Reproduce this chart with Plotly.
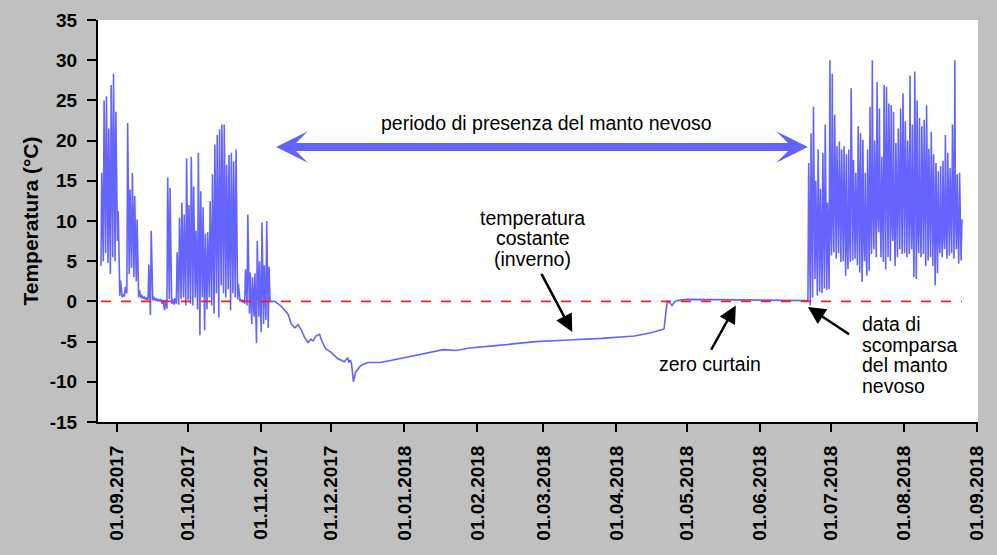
import pandas as pd
import plotly.graph_objects as go

# ---------------------------------------------------------------------------
# Ground-surface temperature record (°C)
# ---------------------------------------------------------------------------

# Snow-free period, late summer / autumn 2017: daily minimum and maximum
autumn_start = "2017-08-25"
autumn_tmin = [4.4, 5.0, 6.0, 4.8, 3.4, 5.5, 5.0, 7.5, 0.7, 0.5,
               0.6, 1.0, 3.4, 4.2, 3.0, 2.5, 0.5, 0.4, 0.3, 0.2,
               0.2, -1.7, 0.1, 0.1, 0.0, 0.0, -0.3, -1.1, -0.9, 0.3,
               -0.3, -0.4, -0.3, -0.4, 0.3, 0.5, -0.5, 0.2, -0.3, -0.5,
               0.5, -1.0, -4.2, 0.5, -3.6, -1.0, 0.5, -0.5, -1.5, 1.0,
               -2.0, 2.0, 1.0, 0.5, 1.5, -1.1, 1.0, 0.5, 0.2, 0.0,
               0.0, -0.3, -0.5, -1.5, -2.8, -1.9, -5.2, -1.9, -3.8, -2.8,
               -2.3, -3.3]
autumn_tmax = [16.0, 25.0, 25.5, 21.5, 26.9, 28.3, 23.6, 11.2, 2.6, 0.9,
               1.8, 22.2, 13.9, 16.0, 13.1, 10.2, 1.4, 0.8, 0.6, 0.5,
               4.6, 8.8, 0.6, 0.4, 0.3, 0.3, 0.2, 0.2, 15.4, 14.1,
               0.3, 0.4, 6.1, 10.4, 12.3, 10.8, 17.8, 12.0, 18.0, 14.3,
               8.8, 18.5, 13.7, 11.7, 8.4, 8.6, 12.5, 15.8, 19.5, 20.7,
               21.4, 22.0, 22.0, 17.0, 18.2, 18.5, 17.4, 18.9, 2.2, 0.2,
               0.2, 4.0, 10.8, 3.6, 3.0, 3.5, 7.5, 5.0, 9.8, 4.5,
               10.0, 4.3]

# Snow-covered period: smooth winter curve and spring zero curtain
winter_dates = ["2017-11-05 00:00", "2017-11-07 00:00", "2017-11-09 18:00",
                "2017-11-12 16:00", "2017-11-14 00:00", "2017-11-15 12:00",
                "2017-11-16 22:00", "2017-11-18 05:00", "2017-11-19 16:00",
                "2017-11-21 02:00", "2017-11-22 10:00", "2017-11-23 06:00",
                "2017-11-24 12:00", "2017-11-26 00:00", "2017-11-26 22:00",
                "2017-11-28 16:00", "2017-11-30 20:00", "2017-12-03 16:00",
                "2017-12-06 12:00", "2017-12-07 06:00", "2017-12-07 22:00",
                "2017-12-08 12:00", "2017-12-09 00:00", "2017-12-09 12:00",
                "2017-12-10 10:00", "2017-12-11 08:00", "2017-12-13 10:00",
                "2017-12-16 08:00", "2017-12-21 20:00", "2017-12-28 20:00",
                "2018-01-04 20:00", "2018-01-11 20:00", "2018-01-17 12:00",
                "2018-01-23 00:00", "2018-01-28 14:00", "2018-02-08 20:00",
                "2018-02-25 16:00", "2018-03-11 12:00", "2018-03-25 16:00",
                "2018-04-08 16:00", "2018-04-15 16:00", "2018-04-20 12:00",
                "2018-04-21 05:00", "2018-04-21 22:00", "2018-04-22 14:00",
                "2018-04-23 18:00", "2018-04-24 14:00", "2018-04-25 20:00",
                "2018-04-26 18:00", "2018-04-30 22:00", "2018-05-29 00:00",
                "2018-06-21 04:00"]
winter_temp = [0.0, 0.0, -0.6,
               -1.6, -2.8, -3.3,
               -2.9, -3.5, -4.5,
               -5.1, -4.7, -4.9,
               -4.3, -4.1, -4.9,
               -5.9, -6.3, -7.1,
               -7.5, -7.2, -7.0,
               -7.6, -7.3, -7.6,
               -10.0, -8.8, -8.0,
               -7.6, -7.6, -7.2,
               -6.8, -6.4, -6.0,
               -6.1, -5.8, -5.5,
               -5.0, -4.8, -4.6,
               -4.3, -3.9, -3.5,
               -3.4, -1.5, 0.0,
               -0.2, -0.5, 0.0,
               0.1, 0.25, 0.2,
               0.1]

# Snow-free period, summer 2018: morning minimum, afternoon maximum, evening
summer_start = "2018-06-21"
summer_tmin = [0.1, -0.5, 0.5, 2.8, 0.7, 1.2, 1.0, 1.6, 1.4, 1.5,
               5.7, 6.1, 5.3, 6.0, 4.9, 5.0, 3.2, 4.0, 4.9, 5.1,
               5.3, 4.5, 3.6, 2.4, 5.0, 3.2, 3.8, 5.9, 6.5, 5.5,
               8.6, 5.5, 4.9, 4.0, 5.5, 5.0, 7.5, 4.4, 5.5, 6.5,
               5.9, 6.0, 5.5, 5.9, 6.5, 3.0, 2.8, 6.0, 5.5, 5.9,
               4.4, 5.1, 5.5, 4.4, 2.0, 3.5, 6.0, 5.5, 6.5, 5.3,
               5.7, 6.0, 5.3, 6.5, 4.7, 5.1]
summer_tmax = [17.2, 20.9, 24.2, 15.0, 18.9, 14.0, 18.5, 22.0, 12.3, 30.0,
               28.3, 23.2, 19.3, 19.9, 18.9, 19.3, 18.3, 18.9, 26.5, 17.6,
               16.0, 21.8, 20.9, 20.1, 16.0, 18.9, 24.2, 30.0, 20.0, 27.3,
               24.0, 18.0, 26.9, 26.7, 24.6, 24.4, 23.6, 19.7, 21.5, 24.0,
               25.9, 22.4, 20.0, 28.1, 22.0, 28.6, 25.0, 22.8, 21.8, 22.6,
               24.4, 19.0, 21.1, 18.3, 17.2, 16.2, 16.8, 17.5, 20.7, 18.5,
               16.6, 22.0, 30.0, 15.8, 16.0, 10.2]
summer_tevening = [6.0, 8.0, 9.0, 5.0, 7.0, 5.0, 7.0, 8.0, 5.0, 10.0,
                   12.0, 11.0, 10.0, 10.0, 9.0, 10.0, 8.0, 9.0, 12.0, 9.0,
                   9.0, 11.0, 10.0, 9.0, 8.0, 9.0, 11.0, 13.0, 11.0, 12.0,
                   13.0, 10.0, 12.0, 12.0, 11.0, 11.0, 12.0, 10.0, 11.0, 12.0,
                   12.0, 11.0, 10.0, 12.0, 11.0, 12.0, 10.0, 11.0, 11.0, 11.0,
                   11.0, 10.0, 10.0, 9.0, 8.0, 8.0, 9.0, 9.0, 10.0, 10.0,
                   9.0, 11.0, 12.0, 10.0, 9.0]

y_ticks = list(range(-15, 40, 5))
y_ticktext = [str(v) for v in y_ticks]

FONT = "Liberation Sans, Arial, sans-serif"
LINE_BLUE = "rgb(100,100,255)"
ARROW_BLUE = "rgb(98,98,255)"
TEXT_SIZE = 19.5
LINE_STEP = 2.55   # vertical spacing of stacked label lines, in °C


def daily_cycle(start, tmin, tmax, tevening=None):
    """Morning minimum, afternoon maximum and (optionally) evening value."""
    days = pd.date_range(start, periods=len(tmin), freq="D")
    t, v = [], []
    for i, (d, lo, hi) in enumerate(zip(days, tmin, tmax)):
        t += [d + pd.Timedelta(hours=6), d + pd.Timedelta(hours=14)]
        v += [lo, hi]
        if tevening is not None and i < len(tevening):
            t.append(d + pd.Timedelta(hours=20))
            v.append(tevening[i])
    return t, v


t_a, v_a = daily_cycle(autumn_start, autumn_tmin, autumn_tmax)
t_w = list(pd.to_datetime(winter_dates))
t_s, v_s = daily_cycle(summer_start, summer_tmin, summer_tmax, summer_tevening)

times = t_a + t_w + t_s
temps = v_a + winter_temp + v_s

fig = go.Figure()

fig.add_trace(go.Scatter(
    x=times, y=temps, mode="lines",
    line=dict(color=LINE_BLUE, width=1.6),
    hoverinfo="skip", showlegend=False,
))

# 0 °C reference across the whole record
fig.add_trace(go.Scatter(
    x=[times[0], times[-1]], y=[0, 0], mode="lines",
    line=dict(color="#ff1a1a", width=1.6, dash="10px,10px"),
    hoverinfo="skip", showlegend=False,
))

# ---------------------------------------------------------------------------
# Annotations
# ---------------------------------------------------------------------------
snow_start, snow_end = "2017-11-07 14:00", "2018-06-21 06:00"
arrow_y = 19.2

# double-headed arrow: two overlapping shafts, one head at each end
for tip, tail in ((snow_start, "2018-03-15"), (snow_end, "2018-02-15")):
    fig.add_annotation(
        x=tip, y=arrow_y, ax=tail, ay=arrow_y,
        xref="x", yref="y", axref="x", ayref="y",
        text="", showarrow=True, arrowhead=3, arrowsize=0.66,
        arrowwidth=8, arrowcolor=ARROW_BLUE, standoff=0,
    )

fig.add_annotation(
    x="2018-03-02 08:00", y=22.2, xref="x", yref="y",
    text="periodo di presenza del manto nevoso", showarrow=False,
    font=dict(family=FONT, size=TEXT_SIZE, color="black"),
)

# "temperatura costante (inverno)"
winter_lines = ["temperatura", "costante", "(inverno)"]
for i, line in enumerate(winter_lines):
    fig.add_annotation(
        x="2018-02-24 10:00", y=10.4 - LINE_STEP * i, xref="x", yref="y",
        text=line, showarrow=False,
        font=dict(family=FONT, size=TEXT_SIZE, color="black"),
    )
fig.add_annotation(
    x="2018-03-13 06:00", y=-3.8, ax="2018-02-27 20:00", ay=3.6,
    xref="x", yref="y", axref="x", ayref="y",
    text="", showarrow=True, arrowhead=2, arrowsize=1.4,
    arrowwidth=2.5, arrowcolor="black", standoff=0,
)

# zero curtain
fig.add_annotation(
    x="2018-05-10 20:00", y=-7.8, xref="x", yref="y",
    text="zero curtain", showarrow=False,
    font=dict(family=FONT, size=TEXT_SIZE, color="black"),
)
fig.add_annotation(
    x="2018-05-21 16:00", y=-0.5, ax="2018-05-10 20:00", ay=-6.2,
    xref="x", yref="y", axref="x", ayref="y",
    text="", showarrow=True, arrowhead=2, arrowsize=1.4,
    arrowwidth=2.5, arrowcolor="black", standoff=0,
)

# snow disappearance date
melt_lines = ["data di", "scomparsa", "del manto", "nevoso"]
for i, line in enumerate(melt_lines):
    fig.add_annotation(
        x="2018-07-13 10:00", y=-2.85 - LINE_STEP * i, xref="x", yref="y",
        text=line, showarrow=False, xanchor="left",
        font=dict(family=FONT, size=TEXT_SIZE, color="black"),
    )
fig.add_annotation(
    x="2018-06-21 06:00", y=-0.7, ax="2018-07-09 08:00", ay=-4.2,
    xref="x", yref="y", axref="x", ayref="y",
    text="", showarrow=True, arrowhead=2, arrowsize=1.4,
    arrowwidth=2.5, arrowcolor="black", standoff=0,
)

# ---------------------------------------------------------------------------
# Layout
# ---------------------------------------------------------------------------
fig.update_layout(
    width=997, height=555,
    margin=dict(l=98, r=10, t=17, b=133),
    paper_bgcolor="#c0c0c0",
    plot_bgcolor="white",
    font=dict(family=FONT, color="black"),
    showlegend=False,
    xaxis=dict(
        type="date",
        range=["2017-08-24", "2018-09-01 10:00"],
        tick0="2017-09-01", dtick="M1",
        tickformat="%d.%m.%Y", tickangle=-90,
        ticks="outside", ticklen=8, tickwidth=2, tickcolor="black",
        showline=True, linewidth=2, linecolor="black",
        showgrid=False, zeroline=False,
        tickfont=dict(family=FONT, size=19, color="black", weight="bold"),
        ticklabelstandoff=6,
    ),
    yaxis=dict(
        range=[-15, 35],
        tickvals=y_ticks, ticktext=y_ticktext,
        ticks="outside", ticklen=9, tickwidth=2, tickcolor="black",
        showline=True, linewidth=2, linecolor="black",
        showgrid=False, zeroline=False,
        tickfont=dict(family=FONT, size=19, color="black", weight="bold"),
        ticklabelstandoff=6,
        title=dict(text="Temperatura (°C)", standoff=5,
                   font=dict(family=FONT, size=21, color="black", weight="bold")),
    ),
)

fig.write_html("out.html")
